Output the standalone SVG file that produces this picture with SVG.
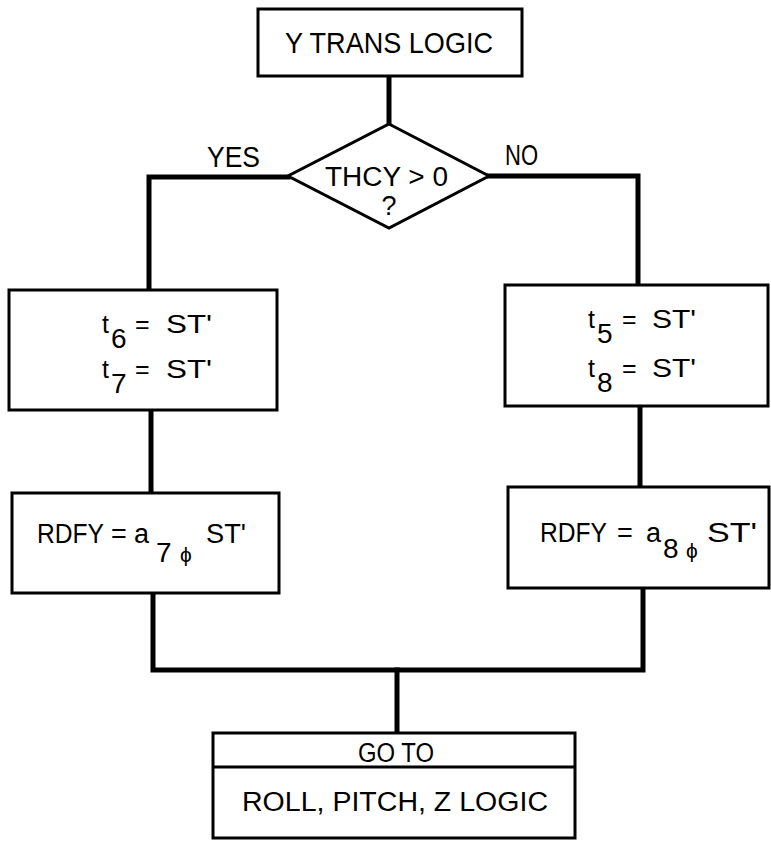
<svg xmlns="http://www.w3.org/2000/svg" width="771" height="843" viewBox="0 0 771 843">
<style>
  .box { fill: #fff; stroke: #000; stroke-width: 3; }
  .conn { fill: none; stroke: #000; stroke-width: 5; stroke-linejoin: miter; stroke-linecap: square; }
  text { font-family: "Liberation Sans", Arial, sans-serif; fill: #000; }
  .big { font-size: 29px; }
  .mid { font-size: 27px; }
  .eq { font-size: 25px; }
  .sub { font-size: 28px; }
  .phi { font-size: 21px; }
</style>
<rect width="771" height="843" fill="#fff"/>

<g id="connectors">
  <line class="conn" x1="389" y1="76" x2="389" y2="124"/>
  <polyline class="conn" points="288,177 149,177 149,290"/>
  <polyline class="conn" points="489,176 638,176 638,285"/>
  <line class="conn" x1="151" y1="410" x2="151" y2="493"/>
  <line class="conn" x1="640" y1="406" x2="640" y2="487"/>
  <polyline class="conn" points="153,593 153,670 643,670 643,588"/>
  <line class="conn" x1="397" y1="670" x2="397" y2="733"/>
</g>

<g id="start">
  <rect class="box" x="258" y="9" width="264" height="67"/>
  <text class="big" x="285" y="53" textLength="208" lengthAdjust="spacingAndGlyphs">Y TRANS LOGIC</text>
</g>

<g id="decision">
  <polygon class="box" points="389,124 489,176 389,228 288,176"/>
  <text class="mid" x="325" y="186" textLength="123" lengthAdjust="spacingAndGlyphs">THCY &gt; 0</text>
  <text class="mid" x="389" y="215" text-anchor="middle">?</text>
</g>

<g id="label-yes">
  <text class="big" x="207" y="167" textLength="53" lengthAdjust="spacingAndGlyphs">YES</text>
</g>
<g id="label-no">
  <text class="big" x="505" y="165" textLength="33" lengthAdjust="spacingAndGlyphs">NO</text>
</g>

<g id="yes-times">
  <rect class="box" x="9" y="290" width="268" height="120"/>
  <text class="eq" x="102" y="333">t</text>
  <text class="sub" x="111" y="348">6</text>
  <text class="eq" x="135" y="333">=</text>
  <text class="eq" x="166" y="333" textLength="46" lengthAdjust="spacingAndGlyphs">ST'</text>
  <text class="eq" x="102" y="378">t</text>
  <text class="sub" x="111" y="393">7</text>
  <text class="eq" x="135" y="378">=</text>
  <text class="eq" x="166" y="378" textLength="46" lengthAdjust="spacingAndGlyphs">ST'</text>
</g>

<g id="no-times">
  <rect class="box" x="505" y="285" width="263" height="121"/>
  <text class="eq" x="588" y="328">t</text>
  <text class="sub" x="597" y="343">5</text>
  <text class="eq" x="622" y="328">=</text>
  <text class="eq" x="652" y="328" textLength="44" lengthAdjust="spacingAndGlyphs">ST'</text>
  <text class="eq" x="588" y="377">t</text>
  <text class="sub" x="597" y="392">8</text>
  <text class="eq" x="622" y="377">=</text>
  <text class="eq" x="652" y="377" textLength="44" lengthAdjust="spacingAndGlyphs">ST'</text>
</g>

<g id="yes-rdfy">
  <rect class="box" x="12" y="493" width="267" height="100"/>
  <text class="mid" x="37" y="543" textLength="67" lengthAdjust="spacingAndGlyphs">RDFY</text>
  <text class="mid" x="111" y="543">=</text>
  <text class="mid" x="134" y="543">a</text>
  <text class="sub" x="156" y="562">7</text>
  <text class="phi" x="180" y="562">ϕ</text>
  <text class="mid" x="206" y="543" textLength="40" lengthAdjust="spacingAndGlyphs">ST'</text>
</g>

<g id="no-rdfy">
  <rect class="box" x="508" y="487" width="261" height="101"/>
  <text class="mid" x="540" y="542" textLength="67" lengthAdjust="spacingAndGlyphs">RDFY</text>
  <text class="mid" x="617" y="542">=</text>
  <text class="mid" x="646" y="542">a</text>
  <text class="sub" x="663" y="558">8</text>
  <text class="phi" x="686" y="558">ϕ</text>
  <text class="mid" x="707" y="542" textLength="50" lengthAdjust="spacingAndGlyphs">ST'</text>
</g>

<g id="goto">
  <rect class="box" x="213" y="733" width="362" height="105"/>
  <line x1="213" y1="767" x2="575" y2="767" stroke="#000" stroke-width="3"/>
  <text class="mid" x="358" y="762" textLength="76" lengthAdjust="spacingAndGlyphs">GO TO</text>
  <text class="mid" x="242" y="811" textLength="306" lengthAdjust="spacingAndGlyphs">ROLL, PITCH, Z LOGIC</text>
</g>
</svg>
